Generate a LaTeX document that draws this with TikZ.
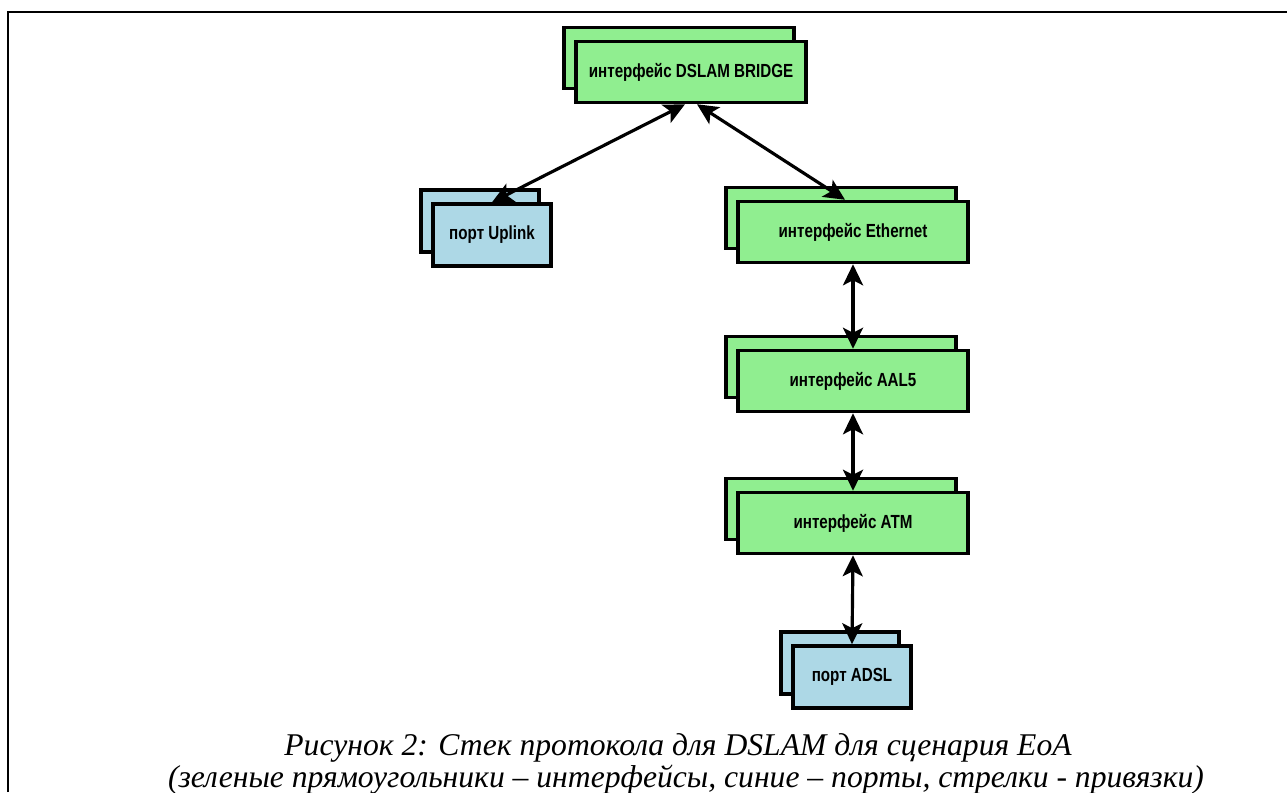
\documentclass[tikz,border=0pt]{standalone}
\usepackage{fontspec}
\setmainfont{Liberation Serif}
\newfontfamily\boxfont{Liberation Sans}[FakeStretch=0.8]
\usepackage{tikz}
\usetikzlibrary{arrows.meta}
\usetikzlibrary{shadows}

\definecolor{ifgreen}{HTML}{90EE90}
\definecolor{portblue}{HTML}{ADD8E6}

\begin{document}
\begin{tikzpicture}[
  x=0.02cm,y=-0.02cm,
  <->,>={Stealth[length=0.42cm,width=0.4cm,inset=0.1cm]},line width=1.8pt,
  iface/.style={draw,rectangle,fill=ifgreen,line width=2pt,minimum width=4.6cm,minimum height=1.22cm,
    copy shadow={shadow xshift=-0.24cm,shadow yshift=0.28cm},font=\boxfont\bfseries\fontsize{10.8}{12}\selectfont},
  port/.style={iface,fill=portblue,minimum width=2.36cm,minimum height=1.24cm}]
      \tikzstyle{caption}=[font=\itshape\fontsize{18}{22}\selectfont,anchor=base,inner sep=0pt]
      \useasboundingbox (0,0) rectangle (1287,792);

      % frame
      \draw[-,line width=1.1pt] (8,792) -- (8,12) -- (1287,12);

      \node [iface] (bridge) at (691,72) {интерфейс DSLAM BRIDGE};
      \node [port] (uplink) at (492,235) {порт Uplink};
      \node [iface] (eth) at (853,232) {интерфейс Ethernet};
      \node [iface] (aal) at (853,381) {интерфейс AAL5};
      \node [iface] (atm) at (853,523) {интерфейс ATM};
      \node [port] (adsl) at (852,677) {порт ADSL};

      \draw ([xshift=-0.12cm]bridge.south) -- (uplink.north);
      \draw ([xshift=0.12cm]bridge.south) -- ([xshift=-0.16cm]eth.north);
      \draw (eth.south) -- (aal.north);
      \draw (aal.south) -- (atm.north);
      \draw (atm.south) -- (adsl.north);

      \node [caption] (cap1) at (678,755) {Рисунок 2: Стек протокола для DSLAM для сценария EoA};
      \node [caption] (cap2) at (686,787) {(зеленые прямоугольники – интерфейсы, синие – порты, стрелки - привязки)};

  \end{tikzpicture}
\end{document}
